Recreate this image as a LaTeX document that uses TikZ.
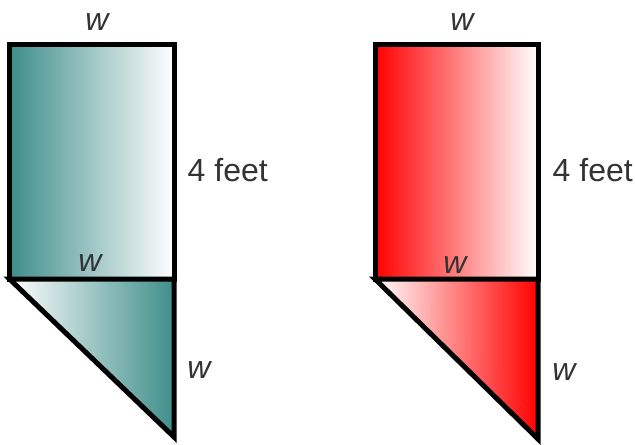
\documentclass[tikz,border=0pt]{standalone}
\usepackage{fontspec}
\setmainfont{Liberation Sans}
\usetikzlibrary{positioning}
\definecolor{tealfill}{RGB}{62,142,138}
\definecolor{labelgray}{RGB}{51,51,51}
\tikzset{
  outline/.style={
    draw=black,
    line width=3.75pt,
  },
  size label/.style={
    text=labelgray,
    font=\fontsize{24}{28}\selectfont,
  },
  width label/.style={
    size label,
    font=\fontsize{24}{28}\selectfont\itshape,
  }
}

\begin{document}
\begin{tikzpicture}[x=0.75pt, y=-0.75pt]
        \useasboundingbox (0,0) rectangle (635,444);

        % teal panel
        \shade [left color=tealfill, right color=white] (9.5,44) rectangle (174,279);
        \draw [outline] (9.5,44) rectangle (174,279);
        \shade [left color=white, right color=tealfill] (9.5,279) -- (174,279) -- (174,437) -- cycle;
        \draw [outline] (9.5,279) -- (174,279) -- (174,437) -- cycle;

        \node [width label] (wtopA) at (97,22) {w};
        \node [width label] (wmidA) at (90,263) {w};
        \node [size label, anchor=west] (hA) at (183,170) {4 feet};
        \node [width label] (wsideA) at (199,370) {w};

        % red panel
        \shade [left color=red, right color=white] (375,44) rectangle (538,279);
        \draw [outline] (375,44) rectangle (538,279);
        \shade [left color=white, right color=red] (375,279) -- (538,279) -- (538,439) -- cycle;
        \draw [outline] (375,279) -- (538,279) -- (538,439) -- cycle;

        \node [width label] (wtopB) at (462,22) {w};
        \node [width label] (wmidB) at (455,265) {w};
        \node [size label, anchor=west] (hB) at (548,170) {4 feet};
        \node [width label] (wsideB) at (564,372) {w};
      \end{tikzpicture}
\end{document}
